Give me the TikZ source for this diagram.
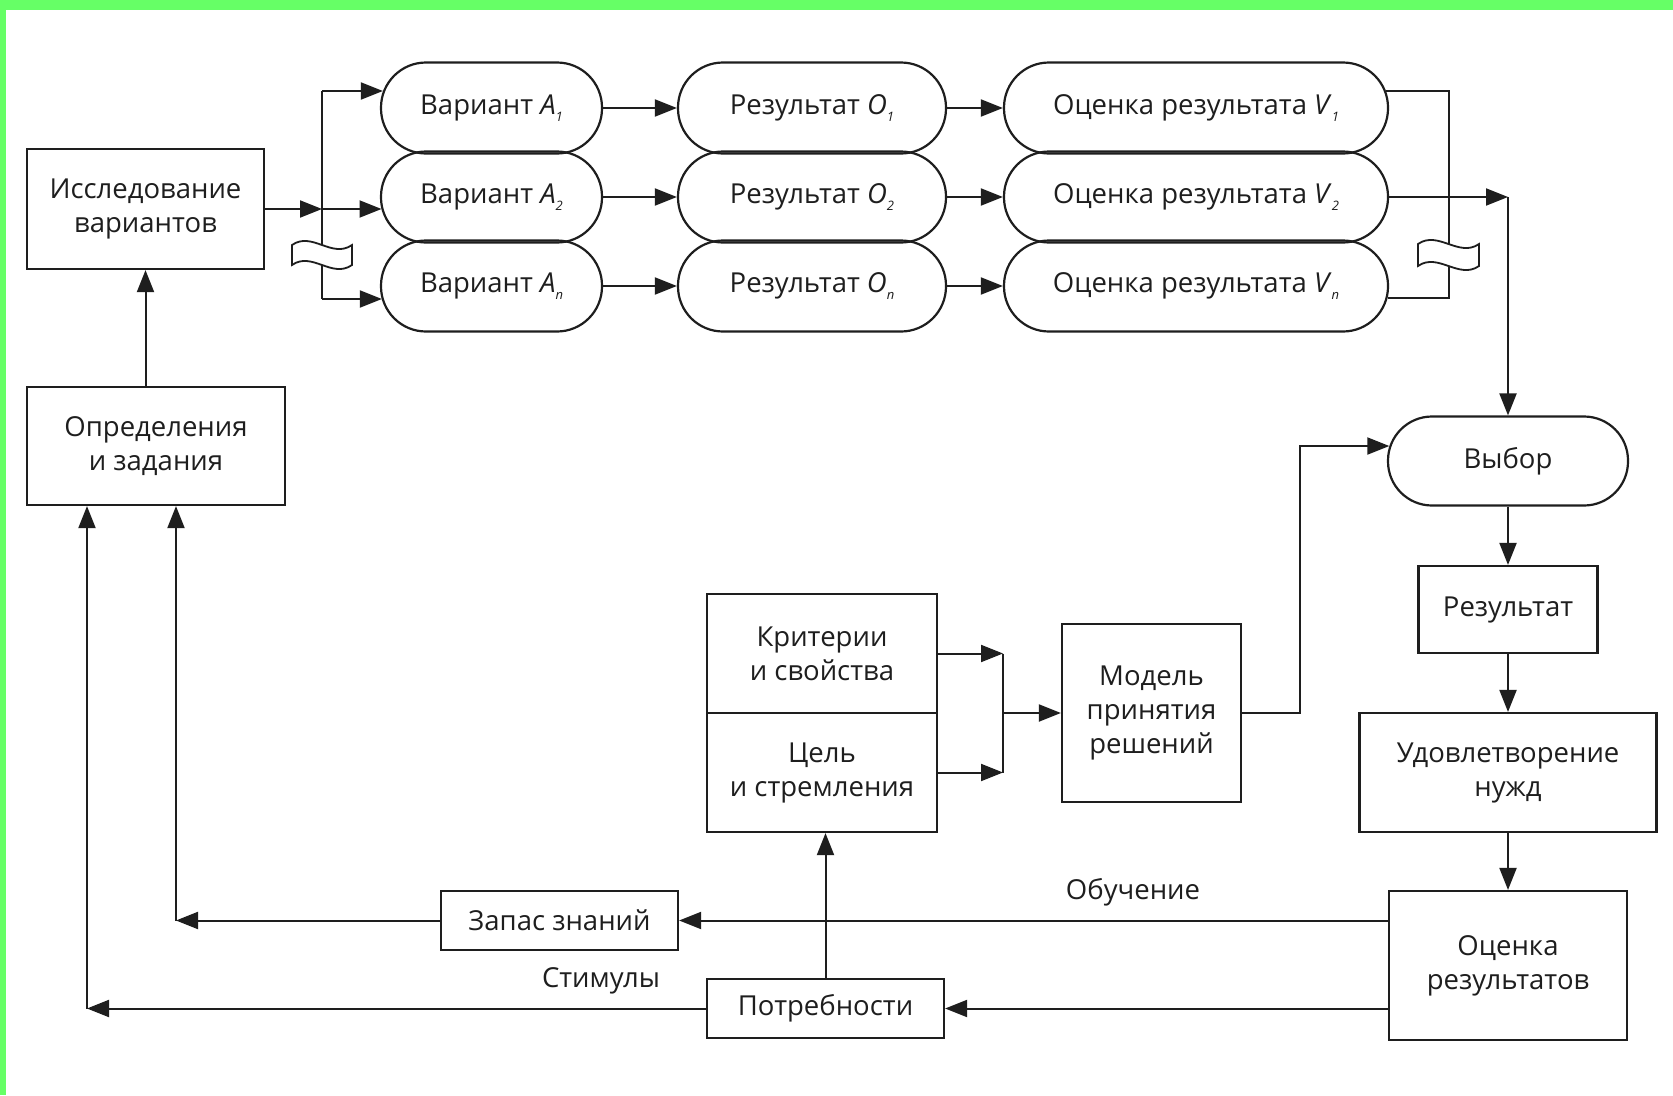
\documentclass[tikz,border=0pt]{standalone}
\usepackage{fontspec}
\setmainfont{Open Sans}
\usetikzlibrary{arrows.meta}
\definecolor{frame}{RGB}{102,255,102}
\definecolor{ink}{RGB}{30,30,30}
\newcommand{\vsub}[2]{\textit{#1}\raisebox{-7pt}[0pt][0pt]{\fontsize{13}{13}\selectfont\textit{#2}}}
\begin{document}
\begin{tikzpicture}[x=1pt,y=-1pt,
  every node/.style={font=\fontsize{27.5}{34}\selectfont, text=ink, align=center, inner sep=0pt},
  box/.style={draw=ink, line width=2.2pt, rectangle},
  pill/.style={draw=ink, line width=2.2pt, rectangle, rounded corners=45pt, minimum height=91pt},
  arr/.style={draw=ink, line width=2pt, -{Triangle[length=22pt,width=17pt]}},
  ln/.style={draw=ink, line width=2pt},
  brk/.style={draw=ink, line width=1.8pt, fill=white}
]
\useasboundingbox (0,0) rectangle (1673,1095);
\fill[white] (0,0) rectangle (1673,1095);
\fill[frame] (0,0) rectangle (1673,10);
\fill[frame] (0,0) rectangle (6,1095);

% left boxes
\node[box, minimum width=237pt, minimum height=120pt] (isl) at (145.5,209) {Исследование\\вариантов};
\node[box, minimum width=258pt, minimum height=118pt] (opr) at (156,446) {Определения\\и задания};

% top rows
\node[pill, minimum width=221pt] (A1) at (491.5,108) {Вариант \vsub{A}{1}};
\node[pill, minimum width=221pt] (A2) at (491.5,197) {Вариант \vsub{A}{2}};
\node[pill, minimum width=221pt] (An) at (491.5,286) {Вариант \vsub{A}{n}};
\node[pill, minimum width=268pt] (O1) at (812,108) {Результат \vsub{O}{1}};
\node[pill, minimum width=268pt] (O2) at (812,197) {Результат \vsub{O}{2}};
\node[pill, minimum width=268pt] (On) at (812,286) {Результат \vsub{O}{n}};
\node[pill, minimum width=384pt] (V1) at (1196,108) {Оценка результата \vsub{V}{1}};
\node[pill, minimum width=384pt] (V2) at (1196,197) {Оценка результата \vsub{V}{2}};
\node[pill, minimum width=384pt] (Vn) at (1196,286) {Оценка результата \vsub{V}{n}};

% right column
\node[pill, minimum width=240pt, minimum height=89pt, rounded corners=44pt] (vyb) at (1508,461) {Выбор};
\node[box, minimum width=179pt, minimum height=87pt] (rez) at (1508,609.5) {Результат};
\node[box, minimum width=297pt, minimum height=119pt] (udv) at (1508,772.5) {Удовлетворение\\нужд};
\node[box, minimum width=238pt, minimum height=149pt] (ocr) at (1508,965.5) {Оценка\\результатов};

% middle
\node[box, minimum width=230pt, minimum height=119pt] (krit) at (822,653.5) {Критерии\\и свойства};
\node[box, minimum width=230pt, minimum height=119pt] (cel) at (822,772.5) {Цель\\и стремления};
\node[box, minimum width=179pt, minimum height=178pt] (mod) at (1151.5,713) {Модель\\принятия\\решений};

% bottom
\node[box, minimum width=237pt, minimum height=59pt] (zap) at (559.5,920.5) {Запас знаний};
\node[box, minimum width=237pt, minimum height=59pt] (potr) at (825.5,1008.5) {Потребности};
\node (lobuch) at (1133,892) {Обучение};
\node (lstim) at (601,981) {Стимулы};

% connectors: left fan-out
\coordinate (jt) at (322,91);
\coordinate (jm) at (322,209);
\coordinate (jb) at (322,299);
\draw[arr] (isl.south |- opr.north) -- (isl.south);
\draw[ln] (jt) -- (jb);
\draw[arr] (isl.east) -- (jm);
\draw[arr] (jt) -- ([xshift=3pt]jt -| A1.west);
\draw[arr] (jm) -- ([xshift=1.6pt]jm -| A2.west);
\draw[arr] (jb) -- ([xshift=2pt]jb -| An.west);

\draw[arr] (A1.east) -- (O1.west);
\draw[arr] (A2.east) -- (O2.west);
\draw[arr] (An.east) -- (On.west);
\draw[arr] (O1.east) -- (V1.west);
\draw[arr] (O2.east) -- (V2.west);
\draw[arr] (On.east) -- (Vn.west);

% right bracket
\coordinate (bt) at (1449,91);
\coordinate (bb) at (1449,298);
\coordinate (cr) at (1508,197);
\draw[ln] ([xshift=-3.3pt]bt -| V1.east) -- (bt) -- (bb) -- ([xshift=-1.6pt]bb -| Vn.east);
\draw[arr] (V2.east) -- (cr);
\draw[arr] (cr) -- (vyb.north);

% decision model to choice
\coordinate (mr) at (1300,713);
\coordinate (mt) at (1300,446);
\draw[arr] (mod.east) -- (mr) -- (mt) -- ([xshift=2.4pt]mt -| vyb.west);

\coordinate (kt) at (1003,653.5);
\coordinate (kb) at (1003,772.5);
\coordinate (km) at (1003,713);
\draw[arr] (krit.east) -- (kt);
\draw[arr] (cel.east) -- (kb);
\draw[ln] (kt) -- (kb);
\draw[arr] (km) -- (mod.west);

% right column arrows
\draw[arr] (vyb.south) -- (rez.north);
\draw[arr] (rez.south) -- (udv.north);
\draw[arr] (udv.south) -- (ocr.north);

% feedback
\coordinate (zl) at (176,920.5);
\coordinate (pl) at (87,1008.5);
\draw[arr] (ocr.west |- zap.east) -- (zap.east);
\draw[arr] (zap.west) -- (zl);
\draw[arr] (zl) -- (zl |- opr.south);
\draw[arr] (ocr.west |- potr.east) -- (potr.east);
\draw[arr] (potr.west) -- (pl);
\draw[arr] (pl) -- (pl |- opr.south);
\draw[arr] (potr.north) -- (potr.north |- cel.south);

% break symbols
\draw[brk] (292,245) -- (292,265) .. controls (312,251) and (332,279) .. (352,265) -- (352,245) .. controls (332,259) and (312,231) .. (292,245) -- cycle;
\draw[brk] (1418,244) -- (1418,266) .. controls (1438,252) and (1459,280) .. (1479,266) -- (1479,244) .. controls (1459,258) and (1438,230) .. (1418,244) -- cycle;
\end{tikzpicture}
\end{document}
